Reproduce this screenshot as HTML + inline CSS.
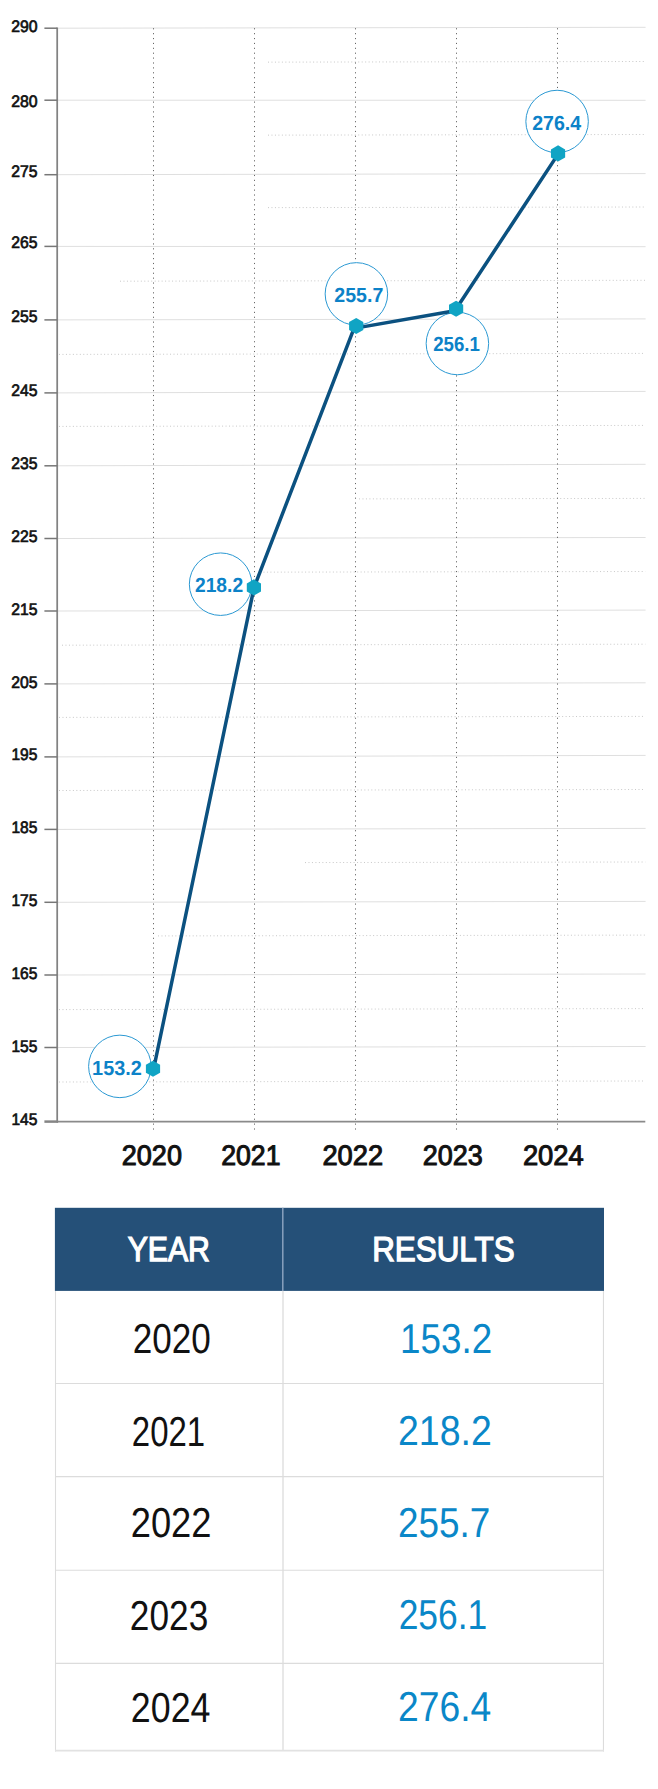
<!DOCTYPE html>
<html lang="en"><head><meta charset="utf-8"><title>Results chart</title>
<style>
html,body{margin:0;padding:0;background:#fff}
svg{display:block}
text{font-family:"Liberation Sans",sans-serif;text-rendering:geometricPrecision}
.yl{font-size:16.7px;fill:#111;stroke:#111;stroke-width:.7px}
.xl{font-size:28.2px;fill:#111;stroke:#111;stroke-width:1px}
.cl{font-size:20.5px;font-weight:bold;fill:#0c82c8}
.th{font-size:34.5px;fill:#fff;stroke:#fff;stroke-width:1.3px}
.tdl{font-size:41.8px;fill:#111}
.tdr{font-size:41.8px;fill:#0a87c8}
</style></head><body>
<svg width="658" height="1789" viewBox="0 0 658 1789">
<rect width="658" height="1789" fill="#fff"/>
<g stroke="#dfdfdf" stroke-width="1">
<line x1="57.2" y1="28.20" x2="645.5999999999999" y2="27.30"/>
<line x1="57.2" y1="100.20" x2="645.5999999999999" y2="100.30"/>
<line x1="57.2" y1="174.70" x2="645.5999999999999" y2="173.60"/>
<line x1="57.2" y1="246.40" x2="645.5999999999999" y2="246.70"/>
<line x1="57.2" y1="319.90" x2="645.5999999999999" y2="318.90"/>
<line x1="57.2" y1="392.90" x2="645.5999999999999" y2="391.40"/>
<line x1="57.2" y1="465.80" x2="645.5999999999999" y2="464.30"/>
<line x1="57.2" y1="538.50" x2="645.5999999999999" y2="537.50"/>
<line x1="57.2" y1="611.00" x2="645.5999999999999" y2="610.10"/>
<line x1="57.2" y1="683.90" x2="645.5999999999999" y2="682.80"/>
<line x1="57.2" y1="756.90" x2="645.5999999999999" y2="755.40"/>
<line x1="57.2" y1="829.40" x2="645.5999999999999" y2="828.40"/>
<line x1="57.2" y1="902.30" x2="645.5999999999999" y2="901.40"/>
<line x1="57.2" y1="975.00" x2="645.5999999999999" y2="974.00"/>
<line x1="57.2" y1="1047.50" x2="645.5999999999999" y2="1046.50"/>
</g>
<g stroke="#c8c8c8" stroke-width="1" stroke-dasharray="1 2.47">
<line x1="268" y1="62.14" x2="645.3" y2="61.5"/>
<line x1="268" y1="135.14" x2="645.3" y2="134.5"/>
<line x1="268" y1="207.64" x2="645.3" y2="207.0"/>
<line x1="120" y1="281.19" x2="645.3" y2="280.3"/>
<line x1="59" y1="354.40" x2="645.3" y2="353.4"/>
<line x1="59" y1="426.40" x2="645.3" y2="425.4"/>
<line x1="359" y1="498.89" x2="645.3" y2="498.4"/>
<line x1="260" y1="572.16" x2="645.3" y2="571.5"/>
<line x1="62" y1="645.19" x2="645.3" y2="644.2"/>
<line x1="59" y1="717.40" x2="645.3" y2="716.4"/>
<line x1="59" y1="790.50" x2="645.3" y2="789.5"/>
<line x1="305" y1="862.58" x2="645.3" y2="862.0"/>
<line x1="158" y1="935.93" x2="645.3" y2="935.1"/>
<line x1="59" y1="1009.60" x2="645.3" y2="1008.6"/>
<line x1="59" y1="1082.00" x2="645.3" y2="1081.0"/>
</g>
<g stroke="#666" stroke-width="1" stroke-dasharray="1.15 3.74">
<line x1="153.5" y1="28.2" x2="153.5" y2="1130"/>
<line x1="254.5" y1="28.2" x2="254.5" y2="1130"/>
<line x1="355.5" y1="28.2" x2="355.5" y2="1130"/>
<line x1="456.5" y1="28.2" x2="456.5" y2="1130"/>
<line x1="557.5" y1="28.2" x2="557.5" y2="1130"/>
</g>
<g stroke="#828282" stroke-width="1.75" fill="none">
<line x1="57.2" y1="27.4" x2="57.2" y2="1122.5"/>
<line x1="57.2" y1="1121.6" x2="645.3" y2="1121.6" stroke-width="1.6" stroke="#8a8a8a"/>
<line x1="44.4" y1="1121.6" x2="58.1" y2="1121.6" stroke-width="2.5" stroke="#858585"/>
</g>
<g stroke="#777" stroke-width="1.5">
<line x1="44.4" y1="28.20" x2="57.2" y2="28.20"/>
<line x1="44.4" y1="100.20" x2="57.2" y2="100.20"/>
<line x1="44.4" y1="174.70" x2="57.2" y2="174.70"/>
<line x1="44.4" y1="246.40" x2="57.2" y2="246.40"/>
<line x1="44.4" y1="319.90" x2="57.2" y2="319.90"/>
<line x1="44.4" y1="392.90" x2="57.2" y2="392.90"/>
<line x1="44.4" y1="465.80" x2="57.2" y2="465.80"/>
<line x1="44.4" y1="538.50" x2="57.2" y2="538.50"/>
<line x1="44.4" y1="611.00" x2="57.2" y2="611.00"/>
<line x1="44.4" y1="683.90" x2="57.2" y2="683.90"/>
<line x1="44.4" y1="756.90" x2="57.2" y2="756.90"/>
<line x1="44.4" y1="829.40" x2="57.2" y2="829.40"/>
<line x1="44.4" y1="902.30" x2="57.2" y2="902.30"/>
<line x1="44.4" y1="975.00" x2="57.2" y2="975.00"/>
<line x1="44.4" y1="1047.50" x2="57.2" y2="1047.50"/>
</g>
<text class="yl" x="11.16" y="32" textLength="26.43" lengthAdjust="spacingAndGlyphs">290</text>
<text class="yl" x="11.16" y="107" textLength="26.43" lengthAdjust="spacingAndGlyphs">280</text>
<text class="yl" x="11.13" y="177" textLength="26.27" lengthAdjust="spacingAndGlyphs">275</text>
<text class="yl" x="11.13" y="248" textLength="26.27" lengthAdjust="spacingAndGlyphs">265</text>
<text class="yl" x="11.13" y="322" textLength="26.27" lengthAdjust="spacingAndGlyphs">255</text>
<text class="yl" x="11.13" y="396" textLength="26.27" lengthAdjust="spacingAndGlyphs">245</text>
<text class="yl" x="11.13" y="469" textLength="26.27" lengthAdjust="spacingAndGlyphs">235</text>
<text class="yl" x="11.13" y="542" textLength="26.27" lengthAdjust="spacingAndGlyphs">225</text>
<text class="yl" x="11.13" y="615" textLength="26.27" lengthAdjust="spacingAndGlyphs">215</text>
<text class="yl" x="11.13" y="688" textLength="26.27" lengthAdjust="spacingAndGlyphs">205</text>
<text class="yl" x="11.42" y="760" textLength="26.00" lengthAdjust="spacingAndGlyphs">195</text>
<text class="yl" x="11.42" y="833" textLength="26.00" lengthAdjust="spacingAndGlyphs">185</text>
<text class="yl" x="11.42" y="906" textLength="26.00" lengthAdjust="spacingAndGlyphs">175</text>
<text class="yl" x="11.42" y="979" textLength="26.00" lengthAdjust="spacingAndGlyphs">165</text>
<text class="yl" x="11.42" y="1052" textLength="26.00" lengthAdjust="spacingAndGlyphs">155</text>
<text class="yl" x="11.42" y="1125" textLength="26.00" lengthAdjust="spacingAndGlyphs">145</text>
<text class="xl" x="121.81" y="1165" textLength="60.13" lengthAdjust="spacingAndGlyphs">2020</text>
<text class="xl" x="221.21" y="1165" textLength="59.26" lengthAdjust="spacingAndGlyphs">2021</text>
<text class="xl" x="322.43" y="1165" textLength="60.71" lengthAdjust="spacingAndGlyphs">2022</text>
<text class="xl" x="422.68" y="1165" textLength="60.05" lengthAdjust="spacingAndGlyphs">2023</text>
<text class="xl" x="522.91" y="1165" textLength="60.87" lengthAdjust="spacingAndGlyphs">2024</text>
<circle cx="119.85" cy="1066.4" r="31.25" fill="#fff" stroke="#2b99d3" stroke-width="1"/>
<circle cx="220.6" cy="584.2" r="31.25" fill="#fff" stroke="#2b99d3" stroke-width="1"/>
<circle cx="356.4" cy="293.9" r="31.25" fill="#fff" stroke="#2b99d3" stroke-width="1"/>
<circle cx="457.4" cy="343.5" r="31.25" fill="#fff" stroke="#2b99d3" stroke-width="1"/>
<circle cx="557.1" cy="121.5" r="31.25" fill="#fff" stroke="#2b99d3" stroke-width="1"/>
<polyline fill="none" stroke="#0b5180" stroke-width="3.5" stroke-linejoin="round" points="153.7,1068.7 254.1,587.3 354.0,328.4 454.9,310.8 558.6,153.4"/>
<polygon fill="#10a4c4" points="153.00,1060.65 160.10,1064.67 160.10,1072.73 153.00,1076.75 145.90,1072.73 145.90,1064.67"/>
<polygon fill="#10a4c4" points="253.90,579.35 261.00,583.38 261.00,591.42 253.90,595.45 246.80,591.42 246.80,583.38"/>
<polygon fill="#10a4c4" points="356.20,317.95 363.30,321.98 363.30,330.02 356.20,334.05 349.10,330.02 349.10,321.98"/>
<polygon fill="#10a4c4" points="456.10,300.65 463.20,304.68 463.20,312.72 456.10,316.75 449.00,312.72 449.00,304.68"/>
<polygon fill="#10a4c4" points="558.05,145.35 565.15,149.38 565.15,157.43 558.05,161.45 550.95,157.43 550.95,149.38"/>
<text class="cl" x="92.12" y="1075" textLength="49.65" lengthAdjust="spacingAndGlyphs">153.2</text>
<text class="cl" x="194.94" y="592" textLength="48.22" lengthAdjust="spacingAndGlyphs">218.2</text>
<text class="cl" x="334.28" y="302" textLength="49.02" lengthAdjust="spacingAndGlyphs">255.7</text>
<text class="cl" x="433.21" y="351" textLength="46.74" lengthAdjust="spacingAndGlyphs">256.1</text>
<text class="cl" x="532.17" y="130" textLength="48.96" lengthAdjust="spacingAndGlyphs">276.4</text>
<rect x="54.9" y="1207.8" width="549.1" height="83.1" fill="#255078"/>
<line x1="282.8" y1="1207.8" x2="282.8" y2="1290.9" stroke="#8fa6c2" stroke-width="1.4"/>
<g stroke="#dcdcdc" stroke-width="1.1" fill="none">
<line x1="55.5" y1="1290.9" x2="55.5" y2="1751.5"/>
<line x1="283" y1="1290.9" x2="283" y2="1751" stroke="#e4e4e4" stroke-width="1.7"/>
<line x1="603.45" y1="1290.9" x2="603.45" y2="1751.5"/>
<line x1="55" y1="1383.5" x2="604" y2="1383.5"/>
<line x1="55" y1="1476.6" x2="604" y2="1476.6"/>
<line x1="55" y1="1570.3" x2="604" y2="1570.3"/>
<line x1="55" y1="1663.4" x2="604" y2="1663.4"/>
<line x1="55" y1="1750.7" x2="604" y2="1750.7" stroke="#e2e2e2" stroke-width="1.7"/>
</g>
<text class="th" x="127.67" y="1261" textLength="82.28" lengthAdjust="spacingAndGlyphs">YEAR</text>
<text class="th" x="372.21" y="1261" textLength="142.38" lengthAdjust="spacingAndGlyphs">RESULTS</text>
<text class="tdl" x="132.79" y="1353" textLength="78.07" lengthAdjust="spacingAndGlyphs">2020</text>
<text class="tdl" x="131.84" y="1446" textLength="73.37" lengthAdjust="spacingAndGlyphs">2021</text>
<text class="tdl" x="130.73" y="1537" textLength="80.81" lengthAdjust="spacingAndGlyphs">2022</text>
<text class="tdl" x="129.87" y="1630" textLength="78.38" lengthAdjust="spacingAndGlyphs">2023</text>
<text class="tdl" x="130.86" y="1722" textLength="79.67" lengthAdjust="spacingAndGlyphs">2024</text>
<text class="tdr" x="400.00" y="1353" textLength="92.16" lengthAdjust="spacingAndGlyphs">153.2</text>
<text class="tdr" x="398.00" y="1445" textLength="93.79" lengthAdjust="spacingAndGlyphs">218.2</text>
<text class="tdr" x="398.00" y="1537" textLength="92.33" lengthAdjust="spacingAndGlyphs">255.7</text>
<text class="tdr" x="398.65" y="1629" textLength="88.66" lengthAdjust="spacingAndGlyphs">256.1</text>
<text class="tdr" x="398.00" y="1721" textLength="93.22" lengthAdjust="spacingAndGlyphs">276.4</text>
</svg>
</body></html>
